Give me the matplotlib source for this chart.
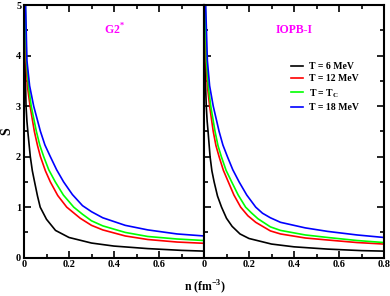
import numpy as np
import matplotlib
matplotlib.use("Agg")
import matplotlib.pyplot as plt
from matplotlib.ticker import MultipleLocator, FixedLocator, FuncFormatter

plt.rcParams["font.family"] = "Liberation Serif"
plt.rcParams["font.weight"] = "bold"
plt.rcParams["mathtext.fontset"] = "custom"
plt.rcParams["mathtext.rm"] = "Liberation Serif:bold"
plt.rcParams["mathtext.bf"] = "Liberation Serif:bold"

# values: (n, S) per curve
# left panel, G2*
g2_n_t6 = [0.003, 0.005, 0.007, 0.009, 0.013, 0.018, 0.028, 0.037, 0.047, 0.06, 0.072, 0.1, 0.14, 0.2, 0.3, 0.4, 0.55, 0.7, 0.8]
g2_s_t6 = [5.2, 4.0, 3.4, 3.0, 2.7, 2.45, 2.0, 1.72, 1.5, 1.22, 1.0, 0.76, 0.54, 0.40, 0.29, 0.23, 0.18, 0.145, 0.13]
g2_n_t12 = [0.004, 0.009, 0.015, 0.027, 0.046, 0.06, 0.073, 0.095, 0.117, 0.15, 0.19, 0.25, 0.3, 0.35, 0.45, 0.55, 0.68, 0.8]
g2_s_t12 = [5.2, 3.9, 3.4, 3.0, 2.5, 2.22, 2.0, 1.72, 1.5, 1.23, 1.0, 0.78, 0.64, 0.55, 0.43, 0.36, 0.31, 0.285]
g2_n_tc = [0.005, 0.011, 0.02, 0.032, 0.055, 0.07, 0.0875, 0.11, 0.139, 0.175, 0.221, 0.26, 0.3, 0.35, 0.45, 0.55, 0.68, 0.8]
g2_s_tc = [5.2, 3.9, 3.4, 3.0, 2.5, 2.23, 2.0, 1.74, 1.5, 1.24, 1.0, 0.86, 0.73, 0.63, 0.50, 0.42, 0.37, 0.34]
g2_n_t18 = [0.006, 0.013, 0.025, 0.043, 0.073, 0.093, 0.117, 0.145, 0.176, 0.215, 0.26, 0.3, 0.35, 0.45, 0.55, 0.68, 0.8]
g2_s_t18 = [5.2, 3.9, 3.4, 3.0, 2.5, 2.23, 2.0, 1.74, 1.5, 1.25, 1.03, 0.91, 0.79, 0.64, 0.55, 0.47, 0.43]

# right panel, IOPB-I
io_n_t6 = [0.003, 0.005, 0.007, 0.01, 0.014, 0.018, 0.027, 0.035, 0.045, 0.06, 0.078, 0.1, 0.125, 0.16, 0.2, 0.3, 0.4, 0.55, 0.7, 0.8]
io_s_t6 = [5.2, 4.0, 3.4, 3.0, 2.7, 2.5, 2.0, 1.72, 1.5, 1.22, 1.0, 0.78, 0.62, 0.47, 0.38, 0.27, 0.215, 0.17, 0.14, 0.13]
io_n_t12 = [0.004, 0.009, 0.015, 0.025, 0.041, 0.053, 0.067, 0.086, 0.108, 0.133, 0.163, 0.195, 0.23, 0.295, 0.34, 0.45, 0.55, 0.68, 0.8]
io_s_t12 = [5.2, 3.9, 3.4, 3.0, 2.5, 2.22, 2.0, 1.73, 1.5, 1.24, 1.0, 0.83, 0.7, 0.53, 0.47, 0.39, 0.35, 0.30, 0.27]
io_n_tc = [0.005, 0.011, 0.019, 0.03, 0.049, 0.062, 0.077, 0.098, 0.123, 0.152, 0.185, 0.21, 0.24, 0.295, 0.34, 0.45, 0.55, 0.68, 0.8]
io_s_tc = [5.2, 3.9, 3.4, 3.0, 2.5, 2.22, 2.0, 1.73, 1.5, 1.24, 1.0, 0.89, 0.77, 0.61, 0.54, 0.45, 0.40, 0.34, 0.30]
io_n_t18 = [0.006, 0.015, 0.025, 0.041, 0.067, 0.084, 0.104, 0.128, 0.156, 0.19, 0.23, 0.26, 0.295, 0.34, 0.45, 0.55, 0.68, 0.8]
io_s_t18 = [5.2, 3.9, 3.4, 3.0, 2.5, 2.23, 2.0, 1.74, 1.5, 1.24, 1.0, 0.88, 0.79, 0.70, 0.59, 0.52, 0.45, 0.40]

labels = ["T = 6 MeV", "T = 12 MeV", r"T = T$_\mathregular{C}$", "T = 18 MeV"]
colors = ["black", "#ff0000", "#00ff00", "#0000ff"]

panels = [
    ("G2$^\\mathregular{*}$", [(g2_n_t6, g2_s_t6), (g2_n_t12, g2_s_t12), (g2_n_tc, g2_s_tc), (g2_n_t18, g2_s_t18)]),
    ("IOPB-I", [(io_n_t6, io_s_t6), (io_n_t12, io_s_t12), (io_n_tc, io_s_tc), (io_n_t18, io_s_t18)]),
]

fmt = FuncFormatter(lambda v, p: "%g" % round(v, 2))

fig = plt.figure(figsize=(3.9, 2.96), dpi=100)
w = 180 / 390
axes = [fig.add_axes([24 / 390, 0.1294, w, 0.8537]),
        fig.add_axes([24 / 390 + w, 0.1294, w, 0.8537])]

for i, (ax, (name, curves)) in enumerate(zip(axes, panels)):
    for (n, s), c, lab in zip(curves, colors, labels):
        ax.plot(n, s, color=c, lw=1.2, label=lab)
    ax.set_xlim(0, 0.8)
    ax.set_ylim(0, 5)
    ax.xaxis.set_minor_locator(MultipleLocator(0.1))
    ax.yaxis.set_minor_locator(MultipleLocator(0.5))
    ax.yaxis.set_major_locator(MultipleLocator(1))
    ax.xaxis.set_major_formatter(fmt)
    ax.yaxis.set_major_formatter(fmt)
    for sp in ax.spines.values():
        sp.set_linewidth(1.5)
    ax.tick_params(which="both", direction="in", top=True, labelsize=7.5, width=1.2, pad=2)
    ax.tick_params(which="major", length=5)
    ax.tick_params(which="minor", length=3)
    ax.text(0.5, 0.9, name, transform=ax.transAxes, color="#ff00ff",
            fontsize=8.5, fontweight="bold", ha="center", va="center")

axes[0].xaxis.set_major_locator(FixedLocator([0, 0.2, 0.4, 0.6]))
axes[0].tick_params(which="both", right=False)
axes[0].set_ylabel("S", fontsize=10, fontweight="bold", labelpad=2)

axes[1].xaxis.set_major_locator(FixedLocator([0, 0.2, 0.4, 0.6, 0.8]))
axes[1].tick_params(which="both", right=True, labelleft=False)

fig.text(205 / 390, 1 - 287 / 296, r"n (fm$^\mathregular{-3}$)", fontsize=8.5,
         fontweight="bold", ha="center", va="center")

leg = axes[1].legend(loc="upper left", bbox_to_anchor=(0.46, 0.79), frameon=False,
                     fontsize=7, handlelength=1.3, handletextpad=0.6,
                     labelspacing=0.35, borderaxespad=0)

fig.savefig("out.png", dpi=100)
